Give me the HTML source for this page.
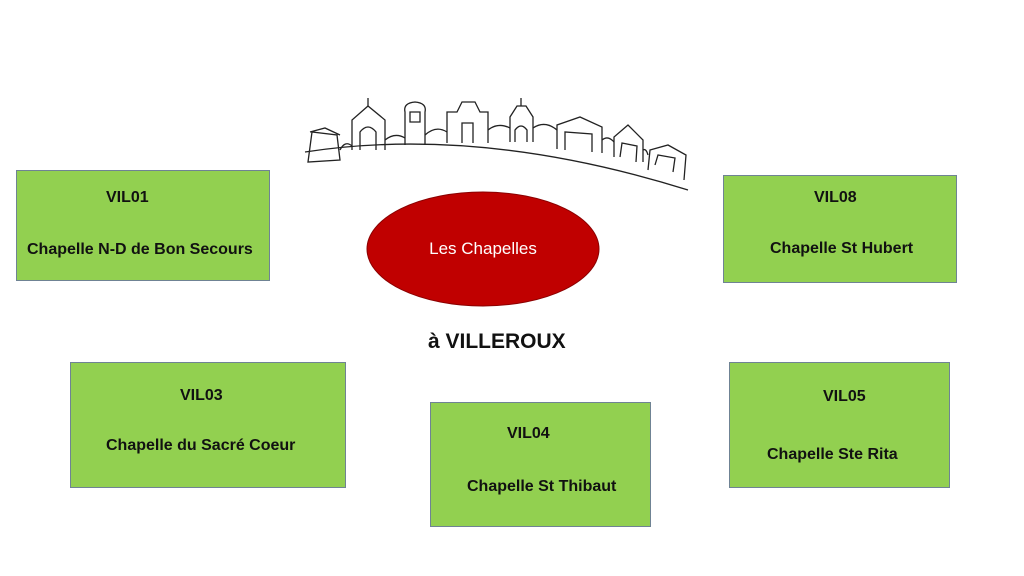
<!DOCTYPE html>
<html><head><meta charset="utf-8"><style>
body{margin:0;width:1024px;height:576px;background:#fff;position:relative;overflow:hidden;font-family:"Liberation Sans",sans-serif}
.b{position:absolute;background:#92d050;border:1px solid #6f8394;box-sizing:border-box}
.t{position:absolute;font-weight:bold;font-size:16px;color:#111;white-space:nowrap}
</style></head><body>
<svg style="position:absolute;left:0;top:0" width="1024" height="576">
<g fill="none" stroke="#222" stroke-width="1.3">
<path d="M305 152 Q480 125 688 190"/>
<path d="M308 162 L312 132 L337 135 L340 160 Z M310 132 L325 128 L340 135"/>
<path d="M352 150 L352 120 L368 106 L385 120 L385 150 M360 150 L360 132 Q368 122 376 132 L376 150"/>
<path d="M368 106 L368 98"/>
<path d="M405 145 L405 112 Q403 103 415 102 Q427 103 425 112 L425 145 M410 122 L410 112 L420 112 L420 122 Z"/>
<path d="M447 143 L447 112 L457 112 L462 102 L475 102 L480 112 L488 112 L488 143 M462 143 L462 123 L473 123 L473 143"/>
<path d="M510 142 L510 117 L517 106 L526 106 L533 117 L533 142 M515 142 L515 130 Q521 122 527 130 L527 142"/>
<path d="M521 106 L521 98"/>
<path d="M557 149 L557 125 L580 117 L602 127 L602 153 M565 150 L565 132 L592 134 L592 152"/>
<path d="M614 157 L614 137 L628 125 L643 140 L643 162 M620 157 L622 143 L637 146 L636 162"/>
<path d="M648 170 L650 150 L668 145 L686 155 L684 180 M655 165 L658 155 L675 158 L673 172"/>
<path d="M340 150 Q345 140 352 146 M385 140 Q395 132 405 138 M425 135 Q436 125 447 132 M488 130 Q498 122 510 128 M533 128 Q545 120 557 130 M602 140 Q608 135 614 142 M643 150 Q646 148 648 155"/>
</g>
<ellipse cx="483" cy="249" rx="116" ry="57" fill="#c00000" stroke="#8b0000" stroke-width="1"/>
</svg>
<div class="t" style="left:0;top:239px;width:966px;text-align:center;font-weight:normal;color:#fff;font-size:17px">Les Chapelles</div>
<div class="t" style="left:428px;top:330px;font-size:21px">à VILLEROUX</div>

<div class="b" style="left:16px;top:170px;width:254px;height:111px"></div>
<div class="t" style="left:106px;top:189px">VIL01</div>
<div class="t" style="left:27px;top:241px">Chapelle N-D de Bon Secours</div>

<div class="b" style="left:723px;top:175px;width:234px;height:108px"></div>
<div class="t" style="left:814px;top:189px">VIL08</div>
<div class="t" style="left:770px;top:240px">Chapelle St Hubert</div>

<div class="b" style="left:70px;top:362px;width:276px;height:126px"></div>
<div class="t" style="left:180px;top:387px">VIL03</div>
<div class="t" style="left:106px;top:437px">Chapelle du Sacré Coeur</div>

<div class="b" style="left:430px;top:402px;width:221px;height:125px"></div>
<div class="t" style="left:507px;top:425px">VIL04</div>
<div class="t" style="left:467px;top:478px">Chapelle St Thibaut</div>

<div class="b" style="left:729px;top:362px;width:221px;height:126px"></div>
<div class="t" style="left:823px;top:388px">VIL05</div>
<div class="t" style="left:767px;top:446px">Chapelle Ste Rita</div>
</body></html>
